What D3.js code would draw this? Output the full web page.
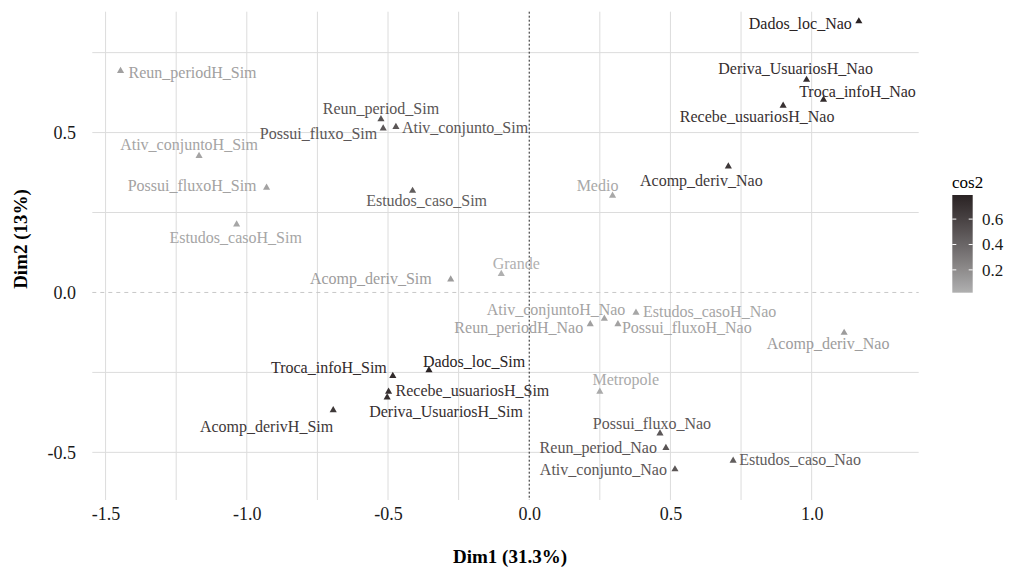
<!DOCTYPE html>
<html><head><meta charset="utf-8">
<script src="https://cdn.jsdelivr.net/npm/d3@7"></script>
<style>html,body{margin:0;padding:0;background:#fff;} svg{display:block;font-family:"Liberation Serif",serif;} svg text{font-family:"Liberation Serif",serif;}</style>
</head><body><svg id="chart" width="1020" height="568"></svg>
<script>
const categories = ["Reun_periodH_Sim","Reun_period_Sim","Possui_fluxo_Sim","Ativ_conjunto_Sim","Ativ_conjuntoH_Sim","Possui_fluxoH_Sim","Estudos_caso_Sim","Estudos_casoH_Sim","Acomp_deriv_Sim","Grande",
"Dados_loc_Nao","Deriva_UsuariosH_Nao","Troca_infoH_Nao","Recebe_usuariosH_Nao","Acomp_deriv_Nao","Medio",
"Troca_infoH_Sim","Dados_loc_Sim","Recebe_usuariosH_Sim","Deriva_UsuariosH_Sim","Acomp_derivH_Sim",
"Ativ_conjuntoH_Nao","Reun_periodH_Nao","Estudos_casoH_Nao","Possui_fluxoH_Nao","Acomp_deriv_Nao","Metropole","Possui_fluxo_Nao","Reun_period_Nao","Ativ_conjunto_Nao","Estudos_caso_Nao"];
const dim1 = [-1.447,-0.525,-0.517,-0.472,-1.169,-0.930,-0.413,-1.036,-0.278,-0.099,
1.167,0.982,1.042,0.899,0.705,0.295,
-0.483,-0.355,-0.498,-0.503,-0.694,
0.266,0.216,0.378,0.314,1.115,0.250,0.463,0.484,0.516,0.722];
const dim2 = [0.693,0.542,0.513,0.518,0.427,0.328,0.318,0.213,0.041,0.058,
0.848,0.665,0.603,0.584,0.394,0.303,
-0.261,-0.243,-0.310,-0.328,-0.368,
-0.082,-0.099,-0.063,-0.099,-0.126,-0.310,-0.441,-0.486,-0.553,-0.526];
const cos2 = [0.10,0.50,0.48,0.49,0.08,0.09,0.45,0.07,0.12,0.02,
0.79,0.72,0.74,0.70,0.66,0.06,
0.74,0.79,0.70,0.72,0.66,
0.08,0.10,0.07,0.09,0.12,0.05,0.48,0.50,0.49,0.45];
const xTicks = [-1.5,-1.0,-0.5,0.0,0.5,1.0];
const yTicks = [-0.5,0.0,0.5];
const xMinor = [-1.25,-0.75,-0.25,0.25,0.75];
const yMinor = [-0.25,0.25,0.75];
const legendTicks = [0.2,0.4,0.6];
const xTitle = "Dim1 (31.3%)", yTitle = "Dim2 (13%)", legendTitle = "cos2";

// label placement (pixel offsets from point: dx, dy, text-anchor)
const labelOffsets = [[8,2,"start"],[0,-11,"middle"],[-6,5,"end"],[6,1,"start"],[-10,-12,"middle"],[-10,-2,"end"],[14,10,"middle"],[-1,13,"middle"],[-19,-1,"end"],[15,-11,"middle"],
[-7,2,"end"],[-11,-11,"middle"],[34,-8,"middle"],[-26,11,"middle"],[-27,14,"middle"],[-15,-10,"middle"],
[-6,-9,"end"],[-6,-9,"start"],[7,-1,"start"],[-18,14,"start"],[0,16,"end"],
[21,-9,"end"],[-7,3,"end"],[7,-1,"start"],[4,3,"start"],[-16,11,"middle"],[26,-12,"middle"],[-8,-10,"middle"],[-9,0,"end"],[-8,0,"end"],[6,-1,"start"]];

const FONT = "Liberation Serif";
const svg = d3.select("#chart");
const x = d3.scaleLinear().domain([-1.547,1.379]).range([92.3,918.7]);
const y = d3.scaleLinear().domain([-0.649,0.878]).range([500,11.7]);
const ext = d3.extent(cos2);
const color = d3.scaleLinear().domain(ext).range(["#b0b0b0","#2a2324"]).interpolate(d3.interpolateLab);
const fmt = v => d3.format(".1f")(v).replace("\u2212","-");

const grid = svg.append("g");
const gridColor = "#dcdcdc";
xMinor.concat(xTicks.filter(v=>v!==0)).forEach(v=>{
  grid.append("line").attr("x1",x(v)).attr("x2",x(v)).attr("y1",y.range()[1]).attr("y2",y.range()[0]).attr("stroke",gridColor).attr("stroke-width",1);
});
yMinor.concat(yTicks.filter(v=>v!==0)).forEach(v=>{
  grid.append("line").attr("y1",y(v)).attr("y2",y(v)).attr("x1",x.range()[0]).attr("x2",x.range()[1]).attr("stroke",gridColor).attr("stroke-width",1);
});
// reference lines
svg.append("line").attr("x1",x.range()[0]).attr("x2",x.range()[1]).attr("y1",y(0)).attr("y2",y(0))
  .attr("stroke","#c8c8c8").attr("stroke-width",1).attr("stroke-dasharray","4,4");
svg.append("line").attr("x1",x(0)).attr("x2",x(0)).attr("y1",y.range()[1]).attr("y2",y.range()[0])
  .attr("stroke","#222").attr("stroke-width",1).attr("stroke-dasharray","2,2");

// axes (text only)
const xAxis = d3.axisBottom(x).tickValues(xTicks).tickFormat(fmt).tickSize(0).tickPadding(0);
const gx = svg.append("g").attr("transform","translate(0,507)").call(xAxis).attr("font-family",FONT);
gx.select(".domain").remove();
gx.selectAll("text").attr("font-family",FONT).attr("font-size",18).attr("fill","#1a1a1a").attr("dy","0.71em");
const yAxis = d3.axisLeft(y).tickValues(yTicks).tickFormat(fmt).tickSize(0).tickPadding(0);
const gy = svg.append("g").attr("transform","translate(76,0)").call(yAxis).attr("font-family",FONT);
gy.select(".domain").remove();
gy.selectAll("text").attr("font-family",FONT).attr("font-size",18).attr("fill","#1a1a1a");

// titles
svg.append("text").attr("x",510).attr("y",563).attr("text-anchor","middle").attr("font-family",FONT).attr("font-weight","bold").attr("font-size",19).attr("fill","#000").text(xTitle);
svg.append("text").attr("transform","translate(27,239) rotate(-90)").attr("text-anchor","middle").attr("font-family",FONT).attr("font-weight","bold").attr("font-size",19).attr("fill","#000").text(yTitle);

// points
const data = categories.map((c,i)=>({name:c,x:dim1[i],y:dim2[i],c:cos2[i],off:labelOffsets[i]}));
const tri = d3.symbol().type(d3.symbolTriangle).size(22);
svg.append("g").selectAll("path").data(data).join("path")
  .attr("d",tri).attr("transform",d=>`translate(${x(d.x)},${y(d.y)})`).attr("fill",d=>color(d.c));
svg.append("g").selectAll("text").data(data).join("text")
  .attr("x",d=>x(d.x)+d.off[0]).attr("y",d=>y(d.y)+d.off[1]).attr("dy","0.35em")
  .attr("text-anchor",d=>d.off[2]).attr("font-family",FONT).attr("font-size",16).attr("fill",d=>color(d.c)).text(d=>d.name);

// legend
const lg = svg.append("g");
lg.append("text").attr("x",952).attr("y",188).attr("font-family",FONT).attr("font-size",17).attr("fill","#000").text(legendTitle);
const defs = svg.append("defs");
const grad = defs.append("linearGradient").attr("id","g").attr("x1",0).attr("y1",1).attr("x2",0).attr("y2",0);
d3.range(0,1.0001,0.1).forEach(t=>{
  grad.append("stop").attr("offset",t).attr("stop-color",color(ext[0]+t*(ext[1]-ext[0])));
});
const ly = d3.scaleLinear().domain(ext).range([292.7,195]);
lg.append("rect").attr("x",952.3).attr("y",195).attr("width",20.4).attr("height",97.7).attr("fill","url(#g)");
legendTicks.forEach(v=>{
  lg.append("line").attr("x1",952.3).attr("x2",956.3).attr("y1",ly(v)).attr("y2",ly(v)).attr("stroke","#fff").attr("stroke-width",1);
  lg.append("line").attr("x1",968.7).attr("x2",972.7).attr("y1",ly(v)).attr("y2",ly(v)).attr("stroke","#fff").attr("stroke-width",1);
  lg.append("text").attr("x",982).attr("y",ly(v)).attr("dy","0.35em").attr("font-family",FONT).attr("font-size",17).attr("fill","#1a1a1a").text(fmt(v));
});
</script></body></html>
